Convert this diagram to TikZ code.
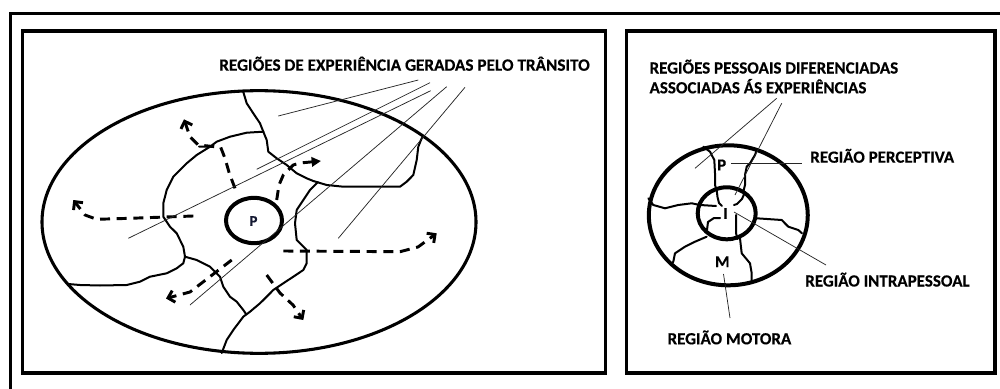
\documentclass[tikz,border=0pt]{standalone}
\usepackage{fontspec}
\setmainfont{Carlito}[BoldFeatures={FakeBold=0.4}]
\usetikzlibrary{arrows.meta}
\begin{document}
\begin{tikzpicture}[x=0.75pt,y=-0.75pt,
  frame/.style={line width=2.4pt,draw=black},
  ring/.style={line width=2.3pt,draw=black},
  ringthick/.style={line width=3pt,draw=black},
  bound/.style={line width=1.5pt,line join=round,line cap=round},
  leader/.style={line width=0.55pt,draw=black!85},
  dasharrow/.style={line width=2.2pt,dash pattern=on 7.5pt off 5pt,line join=round},
  openhead/.style={-{Straight Barb[length=4.5pt,width=9pt]}},
  fullhead/.style={-{Triangle[length=7pt,width=7pt]}},
  lbl/.style={font=\bfseries\fontsize{12.75}{15}\selectfont,inner sep=0pt,anchor=base west},
  letter/.style={font=\bfseries\fontsize{12.5}{14}\selectfont,inner sep=0pt}]
\clip (0,0) rectangle (1000,389);
\fill[white] (0,0) rectangle (1000,389);
% outer frame
\draw[frame] (10.3,400) -- (10.3,13.3) -- (1010,13.3);
% panels
\draw[frame] (22.7,31) rectangle (605.5,373);
\draw[frame] (626.7,31) rectangle (995,373);

% ===== left panel =====
\draw[ring] (259,222) ellipse [x radius=162.75pt, y radius=98.5pt];
% region boundaries
\draw[bound] (243.3,92) -- (246.7,103.3) -- (253.3,113.3) -- (260,123.3) -- (263.3,131.7);
\draw[bound] (263.3,131.7) -- (266.7,140) -- (268.3,151.7) -- (276.7,158.3) -- (286.7,165) -- (296.7,173.3) -- (306.7,178.3) -- (313.3,181) -- (326.7,185) -- (343.3,186.7) -- (400,186.7) -- (406.7,181.7) -- (413.3,175) -- (416.7,160) -- (418.3,146.7) -- (421.7,138.3) -- (424,136);
\draw[bound] (263.3,131.7) -- (246.7,132.7) -- (230,136.7) -- (216.7,141.7) -- (210,146.7) -- (199,146.5);
\draw[bound] (210,146.7) -- (196.7,155) -- (186.7,163.3) -- (173.3,176.7) -- (166.7,190) -- (163.3,203.3) -- (163.3,216.7) -- (170,226.7) -- (176.7,233.3) -- (183.3,246.7) -- (185,256.7);
\draw[bound] (185,256.7) -- (196.7,260) -- (210,266.7) -- (220,276.7) -- (223.3,286.7) -- (230,296.7) -- (236.7,301.7) -- (243.3,310) -- (246,314);
\draw[bound] (185,256.7) -- (183.3,263.3) -- (176.7,268.3) -- (166.7,273.3) -- (150,276.7) -- (140,281.7) -- (126.7,285) -- (100,285.5) -- (80,285) -- (68,284);
\draw[bound] (318,182) -- (310,190) -- (303.3,200) -- (296.7,210) -- (295,223.3) -- (296.7,240) -- (306.7,250) -- (306.7,263.3) -- (303.3,270) -- (293.3,276.7) -- (283.3,283.3) -- (273.3,290) -- (266.7,296.7) -- (260,303.3) -- (250,311.7) -- (243.3,316.7) -- (233.3,330) -- (226.7,340) -- (221.7,353);
% person circle
\draw[ringthick] (254,220.5) ellipse [x radius=21pt, y radius=17pt];
\node[letter,font=\bfseries\fontsize{11}{12}\selectfont,text={rgb,255:red,20;green,25;blue,50}] (pL) at (253.5,221) {P};
% dashed arrows
\coordinate (a1s) at (235,188.3);
\coordinate (a1e) at (184,119.3);
\draw[dasharrow,openhead] (a1s) -- (229.3,173.3) -- (225,158.3) -- (220.7,147.3) -- (198.3,145) -- (190,136.7) -- (a1e);
\coordinate (a2s) at (193.3,216);
\coordinate (a2e) at (73.3,200);
\draw[dasharrow,openhead] (a2s) -- (130,218.3) -- (96.7,219.3) -- (85,215) -- (a2e);
\coordinate (a3s) at (276.7,200);
\coordinate (a3e) at (321,161);
\draw[dasharrow,fullhead] (a3s) -- (279,185) -- (283.3,175) -- (293.3,165) -- (300,163) -- (a3e);
\coordinate (a4s) at (283.3,251);
\coordinate (a4e) at (436.7,233.3);
\draw[dasharrow,openhead] (a4s) -- (400,251.7) -- (418,247) -- (a4e);
\coordinate (a5s) at (231.7,260);
\coordinate (a5e) at (166,298.5);
\draw[dasharrow,openhead] (a5s) -- (190,292) -- (a5e);
\coordinate (a6s) at (266.7,275);
\coordinate (a6e) at (303.3,320);
\draw[dasharrow,openhead] (a6s) -- (280,293) -- (293,305) -- (a6e);
% label and leaders
\node[lbl,font=\bfseries\fontsize{12.9}{15}\selectfont] (lblA) at (219,70.7) {REGIÕES DE EXPERIÊNCIA GERADAS PELO TRÂNSITO};
\coordinate (la1) at (418.3,80);   \coordinate (lb1) at (278.3,116);
\coordinate (la2) at (430,82.7);   \coordinate (lb2) at (256.7,169.3);
\coordinate (la3) at (430.7,90.7); \coordinate (lb3) at (128.3,238.3);
\coordinate (la4) at (446.7,86.7); \coordinate (lb4) at (190,305);
\coordinate (la5) at (465,87.3);   \coordinate (lb5) at (338.3,238.3);
\draw[leader] (la1) -- (lb1);
\draw[leader] (la2) -- (lb2);
\draw[leader] (la3) -- (lb3);
\draw[leader] (la4) -- (lb4);
\draw[leader] (la5) -- (lb5);

% ===== right panel =====
\draw[ringthick] (728.3,215.3) ellipse [x radius=59.6pt, y radius=52.5pt];
\draw[ringthick] (726.7,213.3) ellipse [x radius=21.75pt, y radius=19.5pt];
\draw[bound] (703.3,146.7) -- (710,151.7) -- (714.3,160) -- (715,173.3) -- (715,185) -- (716.7,190);
\draw[bound] (756.7,150) -- (755,155) -- (750,163.3) -- (746.7,166.7) -- (745,175) -- (745,185) -- (743.3,191.7);
\draw[bound] (648.3,198.3) -- (653.3,205) -- (665,208.3) -- (678.3,205) -- (691.7,203.3) -- (700,205) -- (716,206);
\draw[bound] (756.7,218.3) -- (781.7,220) -- (788.3,226.7) -- (798.3,230) -- (802,233.3);
\draw[bound] (706.7,236.7) -- (695,241.7) -- (685,246.7) -- (675,253.3) -- (673.3,261.7) -- (671.7,264);
\draw[bound] (740,238.3) -- (741.7,253.3) -- (750,263.3) -- (751.7,273.3) -- (751.7,281);
\draw[bound] (716.7,190) -- (717.5,197) -- (719,203) -- (722,206);
\draw[bound] (745,192) -- (742,199) -- (737,204) -- (734,205);
\draw[bound] (707,230) -- (708,222) -- (714,218) -- (720,218);
\draw[bound] (736,215) -- (736,224) -- (736,233) -- (737.5,239);
\node[letter] (pR) at (721.7,165) {P};
\node[letter] (iR) at (725.5,213.5) {I};
\node[letter] (mR) at (722.3,261.7) {M};
\node[lbl] (lblB1) at (649.3,73.5) {REGIÕES PESSOAIS DIFERENCIADAS};
\node[lbl] (lblB2) at (649.3,93.3) {ASSOCIADAS ÁS EXPERIÊNCIAS};
\node[lbl] (lblP) at (810,162.7) {REGIÃO PERCEPTIVA};
\node[lbl] (lblI) at (805,286.5) {REGIÃO INTRAPESSOAL};
\node[lbl] (lblM) at (667.3,344.3) {REGIÃO MOTORA};
\coordinate (r1a) at (776.7,98.3);  \coordinate (r1b) at (695,168.3);
\coordinate (r2a) at (781.7,103.3); \coordinate (r2b) at (735,195);
\coordinate (rpa) at (731,163);     \coordinate (rpb) at (802,163);
\coordinate (ria) at (734,212);     \coordinate (rib) at (826,265);
\coordinate (rma) at (723.5,274);   \coordinate (rmb) at (730,318);
\draw[leader] (r1a) -- (r1b);
\draw[leader] (r2a) -- (r2b);
\draw[leader] (rpa) -- (rpb);
\draw[leader] (ria) -- (rib);
\draw[leader] (rma) -- (rmb);
\end{tikzpicture}
\end{document}
